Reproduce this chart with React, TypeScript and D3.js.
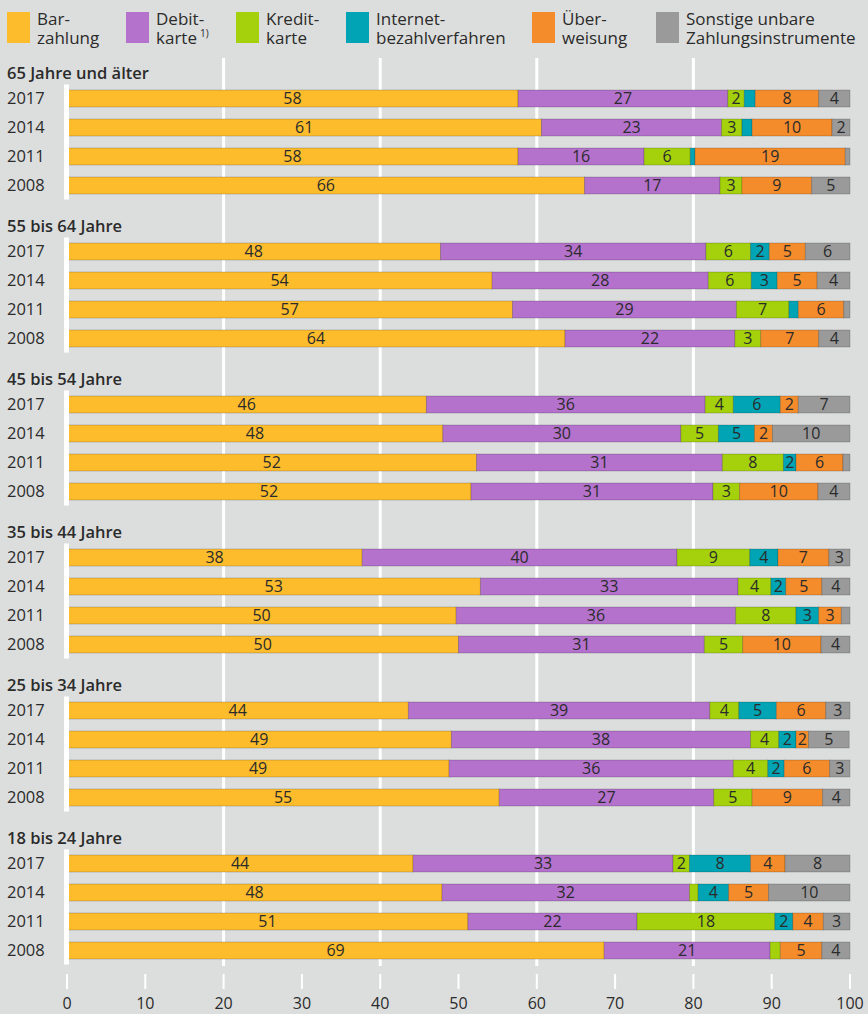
import React from "react";
import * as d3 from "d3";

const categories = ["Barzahlung", "Debitkarte", "Kreditkarte", "Internetbezahlverfahren", "Überweisung", "Sonstige unbare Zahlungsinstrumente"];
const legendLines = [
  ["Bar-", "zahlung"],
  ["Debit-", "karte"],
  ["Kredit-", "karte"],
  ["Internet-", "bezahlverfahren"],
  ["Über-", "weisung"],
  ["Sonstige unbare", "Zahlungsinstrumente"],
];
const colors = ["#fdbc2c", "#b472cd", "#a4d10c", "#00a4b4", "#f58c2c", "#9a9a9a"];
const groups = ["65 Jahre und älter", "55 bis 64 Jahre", "45 bis 54 Jahre", "35 bis 44 Jahre", "25 bis 34 Jahre", "18 bis 24 Jahre"];
const years = ["2017", "2014", "2011", "2008"];
const ticks = [0, 10, 20, 30, 40, 50, 60, 70, 80, 90, 100];
const gridValues = [20, 40, 60, 80];

const age65plus = [
  [57.6, 26.8, 2.1, 1.4, 8.1, 4.0],
  [60.6, 23.0, 2.6, 1.3, 10.2, 2.3],
  [57.6, 16.1, 5.9, 0.6, 19.2, 0.6],
  [66.1, 17.3, 2.8, 0, 8.9, 4.9],
];
const age55to64 = [
  [47.7, 33.9, 5.7, 2.4, 4.6, 5.7],
  [54.3, 27.6, 5.5, 3.3, 5.1, 4.2],
  [56.9, 28.6, 6.7, 1.2, 5.8, 0.8],
  [63.6, 21.7, 3.3, 0, 7.4, 4.0],
];
const age45to54 = [
  [45.9, 35.6, 3.6, 6.0, 2.3, 6.6],
  [48.0, 30.4, 4.8, 4.6, 2.3, 9.9],
  [52.3, 31.4, 7.8, 1.6, 6.0, 0.9],
  [51.6, 30.9, 3.4, 0, 10.0, 4.1],
];
const age35to44 = [
  [37.7, 40.2, 9.3, 3.6, 6.5, 2.7],
  [52.8, 32.9, 4.2, 1.9, 4.6, 3.6],
  [49.7, 35.7, 7.7, 2.9, 2.9, 1.1],
  [50.0, 31.4, 4.9, 0, 10.0, 3.7],
];
const age25to34 = [
  [43.6, 38.5, 3.7, 4.8, 6.3, 3.1],
  [49.1, 38.2, 3.6, 2.2, 1.6, 5.2],
  [48.8, 36.3, 4.4, 2.1, 5.8, 2.6],
  [55.2, 27.4, 4.9, 0, 9.0, 3.5],
];
const age18to24 = [
  [44.2, 33.2, 2.1, 7.8, 4.4, 8.3],
  [47.9, 31.6, 1.1, 3.9, 5.1, 10.4],
  [51.2, 21.6, 17.6, 2.3, 3.9, 3.4],
  [68.6, 21.2, 1.3, 0, 5.3, 3.6],
];
const groupValues = [age65plus, age55to64, age45to54, age35to44, age25to34, age18to24];

const W = 868;
const H = 1014;
const FONT = "'Open Sans', 'Noto Sans', sans-serif";
const TEXT = "#2b2b2b";

export default function App() {
  const x = d3.scaleLinear().domain([0, 100]).range([67, 850]);
  const gy = d3.scaleLinear().domain([0, 1]).range([98.5, 251.5]);
  const ry = d3.scaleBand().domain(years).range([-14.5, 101.5]).paddingInner(0.4).paddingOuter(0.2);
  const barH = 17;
  const rowCenter = (gi: number, yr: string) => gy(gi) + (ry(yr) as number) - (ry(years[0]) as number);
  const legendX = [7, 126, 236, 346, 532, 656];

  return (
    <svg width={W} height={H} style={{ position: "absolute", left: 0, top: 0, background: "#dcdedd" }} fontFamily={FONT}>
      <rect x={0} y={0} width={W} height={H} fill="#dcdedd" />
      {/* legend */}
      {categories.map((c, i) => (
        <g key={c}>
          <rect x={legendX[i]} y={12} width={23} height={31} fill={colors[i]} />
          <text x={legendX[i] + 30} y={25} fontSize={17} fill={TEXT}>
            <tspan x={legendX[i] + 30} y={25}>{legendLines[i][0]}</tspan>
            <tspan x={legendX[i] + 30} y={44}>{legendLines[i][1]}</tspan>
            {i === 1 ? <tspan dx={3} dy={-7} fontSize={10}>1)</tspan> : null}
          </text>
        </g>
      ))}
      {/* gridlines */}
      {gridValues.map((v) => (
        <line key={v} x1={x(v)} x2={x(v)} y1={58} y2={966} stroke="#fff" strokeWidth={3} />
      ))}
      {/* bottom ticks */}
      {ticks.map((t) => (
        <g key={t}>
          <line x1={x(t)} x2={x(t)} y1={974} y2={989} stroke="#fff" strokeWidth={2} />
          <text x={x(t)} y={1009} fontSize={16} textAnchor="middle" fill={TEXT}>{t}</text>
        </g>
      ))}
      {groups.map((g, gi) => {
        const top = rowCenter(gi, years[0]);
        const bottom = rowCenter(gi, years[years.length - 1]);
        return (
          <g key={g}>
            <text x={7} y={gy(gi) - 20} fontSize={16.5} fontWeight={600} fill={TEXT}>{g}</text>
            {years.map((yr, ri) => {
              const vals = groupValues[gi][ri];
              const cy = rowCenter(gi, yr);
              let acc = 0;
              return (
                <g key={yr}>
                  <text x={7} y={cy} dy="0.36em" fontSize={16.5} fill={TEXT}>{yr}</text>
                  {vals.map((v, ci) => {
                    const x0 = x(acc);
                    acc += v;
                    const x1 = x(acc);
                    if (v <= 0) return null;
                    return (
                      <g key={ci}>
                        <rect x={x0} y={cy - barH / 2} width={x1 - x0} height={barH} fill={colors[ci]} stroke="rgba(0,0,0,0.18)" strokeWidth={1} />
                        {v >= 1.5 ? (
                          <text x={(x0 + x1) / 2} y={cy} dy="0.36em" fontSize={16} textAnchor="middle" fill={TEXT}>{Math.round(v)}</text>
                        ) : null}
                      </g>
                    );
                  })}
                </g>
              );
            })}
            <rect x={64} y={top - 14} width={5} height={bottom - top + 28} fill="#fff" />
          </g>
        );
      })}
    </svg>
  );
}
